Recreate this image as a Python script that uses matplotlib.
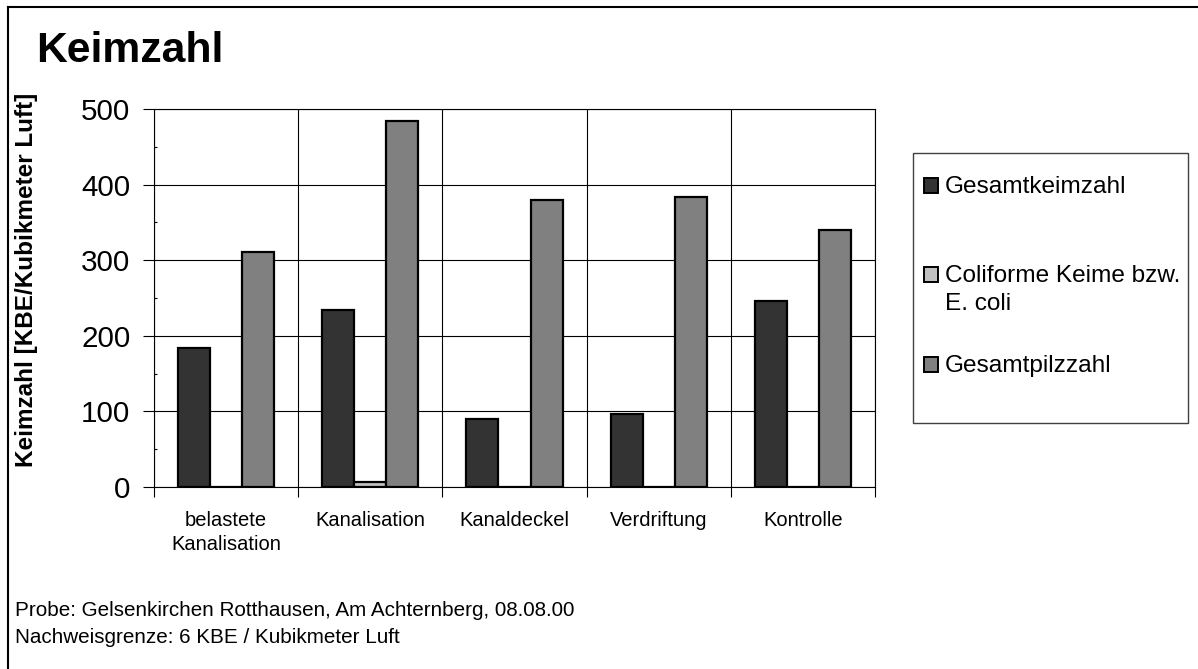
import matplotlib
matplotlib.use("Agg")
import matplotlib.pyplot as plt
from matplotlib.patches import Rectangle
from matplotlib.lines import Line2D
from matplotlib.ticker import MultipleLocator, FixedLocator
import numpy as np

plt.rcParams['font.family'] = ['Liberation Sans', 'DejaVu Sans']

# --- Daten ---
kategorien = ["belastete\nKanalisation", "Kanalisation", "Kanaldeckel", "Verdriftung", "Kontrolle"]
gesamtkeimzahl = [184, 234, 90, 96, 246]
coliforme = [0, 6, 0, 0, 0]
gesamtpilzzahl = [311, 484, 379, 384, 340]
serien = ["Gesamtkeimzahl", "Coliforme Keime bzw.\nE. coli", "Gesamtpilzzahl"]
farben = ["#333333", "#c0c0c0", "#808080"]
y_ticks = [0, 100, 200, 300, 400, 500]

W, H = 1198, 669
fig = plt.figure(figsize=(W / 100, H / 100), dpi=100)
ax = fig.add_axes([154 / W, 1 - 487 / H, (875 - 154) / W, (487 - 109) / H])

x = np.arange(len(kategorien))
breite = 0.222
for i, (werte, farbe) in enumerate(zip([gesamtkeimzahl, coliforme, gesamtpilzzahl], farben)):
    ax.bar(x + (i - 1) * breite, werte, breite, color=farbe, edgecolor="black",
           linewidth=1.6, zorder=3)

ax.set_xlim(-0.5, len(kategorien) - 0.5)
ax.set_ylim(0, 500)
ax.set_yticks(y_ticks)
ax.yaxis.set_minor_locator(MultipleLocator(50))
ax.set_xticks(x)
ax.set_xticklabels(kategorien, fontsize=14.5, linespacing=1.35)
ax.xaxis.set_minor_locator(FixedLocator(np.arange(-0.5, len(kategorien), 1.0)))

ax.tick_params(axis="x", which="major", length=0, pad=17)
ax.tick_params(axis="x", which="minor", length=7, width=0.8, direction="out")
ax.tick_params(axis="y", which="major", length=8, width=0.8, direction="out",
               labelsize=21.3, pad=9)
ax.tick_params(axis="y", which="minor", length=2, width=0.8, direction="in")

ax.grid(axis="y", which="major", color="black", linewidth=0.8, zorder=0)
ax.grid(axis="x", which="minor", color="black", linewidth=0.8, zorder=0)
ax.set_axisbelow(True)
for s in ax.spines.values():
    s.set_linewidth(0.8)
    s.set_color("black")

# Titel und Achsenbeschriftung
fig.text(36 / W, 1 - 62 / H, "Keimzahl", fontsize=30.7, fontweight="bold", va="baseline", ha="left")
fig.text(27 / W, 1 - 280 / H, "Keimzahl [KBE/Kubikmeter Luft]", fontsize=17.5,
         fontweight="bold", rotation=90, va="center", ha="center")

# Legende (von Hand, wie im Original)
fig.patches.append(Rectangle((913 / W, 1 - 423 / H), (1188 - 913) / W, (423 - 153) / H,
                             transform=fig.transFigure, facecolor="white",
                             edgecolor="#404040", linewidth=1.0))
baselines = [193, 282, 372]
for label, farbe, yb in zip(serien, farben, baselines):
    fig.patches.append(Rectangle((924 / W, 1 - yb / H), 14 / W, 15 / H,
                                 transform=fig.transFigure, facecolor=farbe,
                                 edgecolor="black", linewidth=1.4))
    for k, zeile in enumerate(label.split("\n")):
        fig.text(945 / W, 1 - (yb + 28 * k) / H, zeile, fontsize=17.6,
                 va="baseline", ha="left")

# Fusszeile
fig.text(15 / W, 1 - 616 / H, "Probe: Gelsenkirchen Rotthausen, Am Achternberg, 08.08.00",
         fontsize=14.9, va="baseline", ha="left")
fig.text(15 / W, 1 - 643 / H, "Nachweisgrenze: 6 KBE / Kubikmeter Luft",
         fontsize=14.9, va="baseline", ha="left")

# Rahmen oben/links
fig.lines.append(Line2D([8 / W, 1], [1 - 6.5 / H, 1 - 6.5 / H], transform=fig.transFigure,
                        color="black", linewidth=1.5))
fig.lines.append(Line2D([8 / W, 8 / W], [0, 1 - 6.5 / H], transform=fig.transFigure,
                        color="black", linewidth=1.5))

fig.savefig("out.png", dpi=100)
